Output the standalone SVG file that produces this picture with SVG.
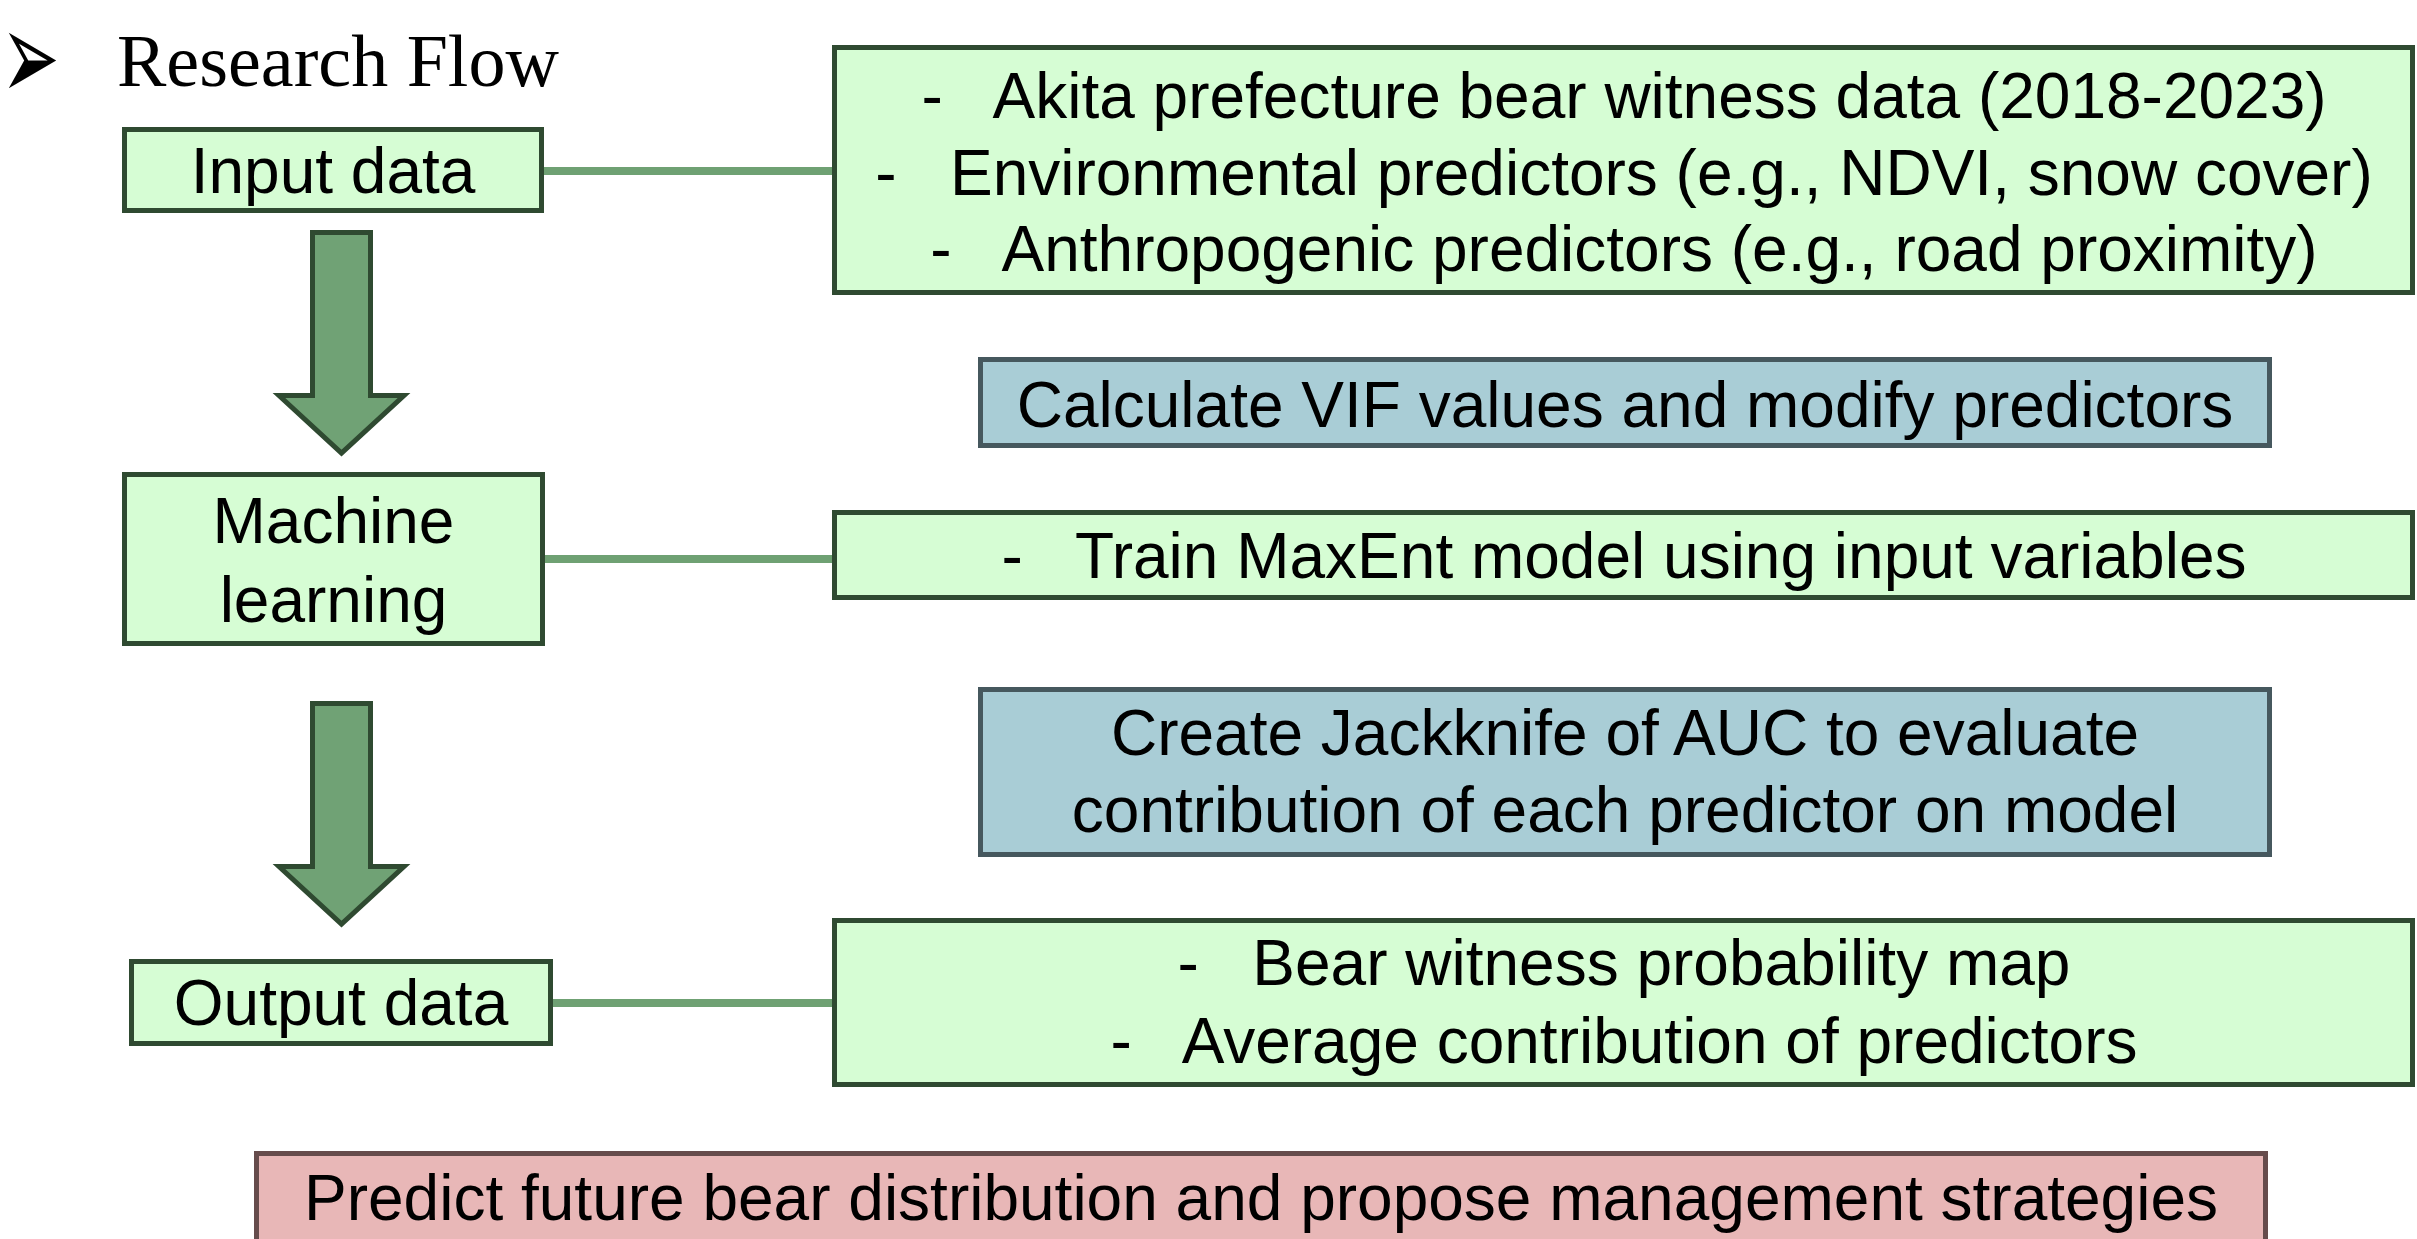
<svg xmlns="http://www.w3.org/2000/svg" width="2417" height="1239" viewBox="0 0 2417 1239">
<style>
.t{font-family:"Liberation Sans",Arial,sans-serif;font-size:64px;fill:#000;text-anchor:middle;white-space:pre}
.g{fill:#d6fdd4;stroke:#2f4a31;stroke-width:5}
.b{fill:#a9cdd6;stroke:#46585e;stroke-width:5}
.p{fill:#e8b7b7;stroke:#664c4c;stroke-width:5}
.arr{fill:#70a275;stroke:#2f4a31;stroke-width:5;stroke-linejoin:miter}
.c{stroke:#6fa173;stroke-width:8;fill:none}
</style>
<rect width="2417" height="1239" fill="#fff"/>
<g id="title">
<text transform="translate(5 100) scale(1 1.8)" x="-4" y="0" style="font-family:'DejaVu Sans',sans-serif;font-size:70px">➢</text>
<text x="117" y="86" style="font-family:'Liberation Serif','Times New Roman',serif;font-size:74px">Research Flow</text>
</g>
<g id="connectors">
<line class="c" x1="544" y1="171" x2="832" y2="171"/>
<line class="c" x1="545" y1="559" x2="832" y2="559"/>
<line class="c" x1="553" y1="1003" x2="832" y2="1003"/>
<path class="arr" d="M312.5,232.5 H370.5 V395.5 H404 L341.5,453 L279,395.5 H312.5 Z"/>
<path class="arr" d="M312.5,703.5 H370.5 V866.5 H404 L341.5,924 L279,866.5 H312.5 Z"/>
</g>
<g id="input-data">
<rect class="g" x="124.5" y="129.5" width="417" height="81"/>
<text class="t" x="333" y="193">Input data</text>
</g>
<g id="input-details">
<rect class="g" x="834.5" y="47.5" width="1578" height="245"/>
<text class="t" x="1624" y="118">-   Akita prefecture bear witness data (2018-2023)</text>
<text class="t" x="1624" y="195">-   Environmental predictors (e.g., NDVI, snow cover)</text>
<text class="t" x="1624" y="271">-   Anthropogenic predictors (e.g., road proximity)</text>
</g>
<g id="vif">
<rect class="b" x="980.5" y="359.5" width="1289" height="86"/>
<text class="t" x="1625" y="427">Calculate VIF values and modify predictors</text>
</g>
<g id="machine-learning">
<rect class="g" x="124.5" y="474.5" width="418" height="169"/>
<text class="t" x="333.5" y="543">Machine</text>
<text class="t" x="333.5" y="622">learning</text>
</g>
<g id="train">
<rect class="g" x="834.5" y="512.5" width="1578" height="85"/>
<text class="t" x="1624" y="578">-   Train MaxEnt model using input variables</text>
</g>
<g id="jackknife">
<rect class="b" x="980.5" y="689.5" width="1289" height="165"/>
<text class="t" x="1625" y="755">Create Jackknife of AUC to evaluate</text>
<text class="t" x="1625" y="832">contribution of each predictor on model</text>
</g>
<g id="output-data">
<rect class="g" x="131.5" y="961.5" width="419" height="82"/>
<text class="t" x="341" y="1025">Output data</text>
</g>
<g id="output-details">
<rect class="g" x="834.5" y="920.5" width="1578" height="164"/>
<text class="t" x="1624" y="985">-   Bear witness probability map</text>
<text class="t" x="1624" y="1063">-   Average contribution of predictors</text>
</g>
<g id="predict">
<rect class="p" x="256.5" y="1153.5" width="2009" height="100"/>
<text class="t" x="1261" y="1220">Predict future bear distribution and propose management strategies</text>
</g>
</svg>
